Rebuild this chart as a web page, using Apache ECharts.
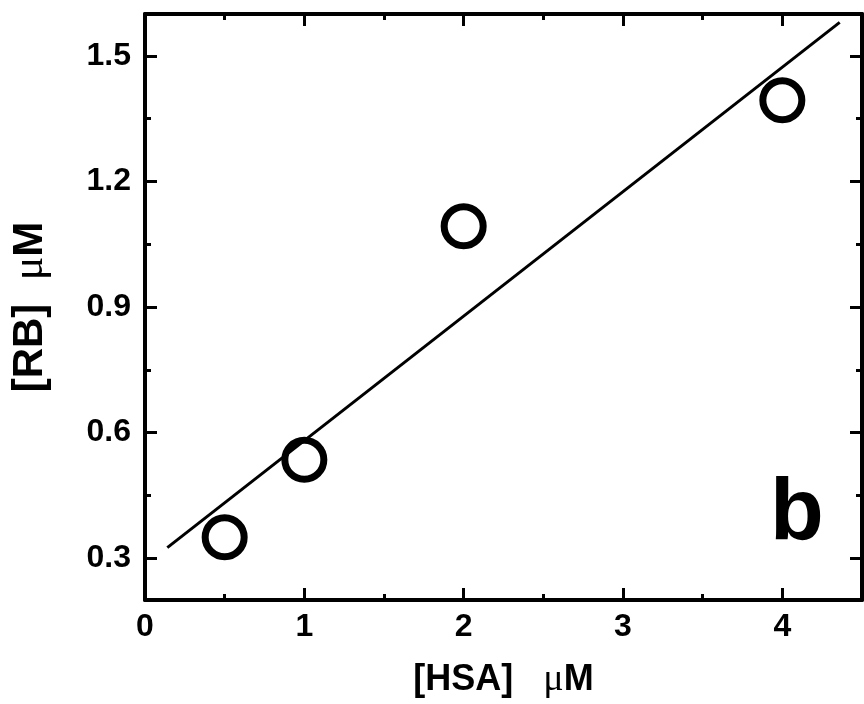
<!DOCTYPE html>
<html>
<head>
<meta charset="utf-8">
<script src="https://cdn.jsdelivr.net/npm/echarts@6/dist/echarts.min.js"></script>
<style>
  html, body { margin: 0; padding: 0; background: #fff; }
  #chart { width: 864px; height: 704px; }
</style>
</head>
<body>
<div id="chart"></div>
<script>
// measured points: [HSA] (uM) vs [RB] (uM)
const hsa = [0.5, 1, 2, 4]
const rb = [0.35, 0.535, 1.093, 1.394]
// linear fit as drawn (start / end of the line)
const fitX = [0.14, 4.36]
const fitY = [0.325, 1.58]

const xMajor = [0, 1, 2, 3, 4]
const xMinor = [0.5, 1.5, 2.5, 3.5]
const yMajor = [0.3, 0.6, 0.9, 1.2, 1.5]
const yMinor = [0.45, 0.75, 1.05, 1.35]
const yLabels = ['0.3', '0.6', '0.9', '1.2', '1.5']

const FONT = 'Liberation Sans, Arial, sans-serif'
const ink = '#000'

function frameAxis(opts) {
  const { position, min, max, ticks, len, line, labels, dim } = opts
  const axis = {
    type: 'value',
    position,
    min,
    max,
    splitLine: { show: false },
    axisLine: { show: !!line, onZero: false, lineStyle: { color: ink, width: 4 } },
    axisTick: {
      show: true,
      inside: true,
      length: len,
      customValues: ticks,
      lineStyle: { color: ink, width: 3 },
    },
    axisLabel: { show: false },
  }
  if (labels) {
    axis.axisLabel = {
      show: true,
      customValues: ticks,
      color: ink,
      fontFamily: FONT,
      fontWeight: 'bold',
      fontSize: 32,
      margin: dim === 'x' ? 11 : 14,
      formatter: v => dim === 'x' ? String(v) : yLabels[yMajor.indexOf(Math.round(v * 100) / 100)],
    }
  }
  return axis
}

function nameRich(size) {
  return {
    t: { fontFamily: FONT, fontWeight: 'bold', fontSize: size, color: ink },
    mu: { fontFamily: 'Liberation Serif, serif', fontSize: size + 2, color: ink },
  }
}

const xAxes = [
  Object.assign(frameAxis({ position: 'bottom', min: 0, max: 4.5, ticks: xMajor, len: 12, line: true, labels: true, dim: 'x' }), {
    name: '{t|[HSA]   }{mu|μ}{t|M}',
    nameLocation: 'middle',
    nameGap: 61,
    nameTextStyle: { rich: nameRich(36) },
  }),
  frameAxis({ position: 'bottom', min: 0, max: 4.5, ticks: xMinor, len: 6 }),
  frameAxis({ position: 'top', min: 0, max: 4.5, ticks: xMajor, len: 12, line: true }),
  frameAxis({ position: 'top', min: 0, max: 4.5, ticks: xMinor, len: 6 }),
]

const yAxes = [
  Object.assign(frameAxis({ position: 'left', min: 0.2, max: 1.6, ticks: yMajor, len: 12, line: true, labels: true, dim: 'y' }), {
    name: '{t|[RB]  }{mu|μ}{t|M}',
    nameLocation: 'middle',
    nameGap: 93,
    nameTextStyle: { rich: nameRich(42) },
  }),
  frameAxis({ position: 'left', min: 0.2, max: 1.6, ticks: yMinor, len: 6 }),
  frameAxis({ position: 'right', min: 0.2, max: 1.6, ticks: yMajor, len: 12, line: true }),
  frameAxis({ position: 'right', min: 0.2, max: 1.6, ticks: yMinor, len: 6 }),
]

const chart = echarts.init(document.getElementById('chart'), null, { renderer: 'canvas' })
chart.setOption({
  animation: false,
  backgroundColor: '#fff',
  grid: { left: 143, top: 14, width: 719, height: 586 },
  xAxis: xAxes,
  yAxis: yAxes,
  graphic: [
    {
      type: 'text',
      left: 770,
      top: 471,
      style: { text: 'b', fontFamily: FONT, fontWeight: 'bold', fontSize: 88, fill: ink },
    },
  ],
  series: [
    {
      name: 'fit',
      type: 'line',
      xAxisIndex: 0,
      yAxisIndex: 0,
      symbol: 'none',
      lineStyle: { color: ink, width: 3 },
      data: fitX.map((x, i) => [x, fitY[i]]),
      z: 2,
    },
    {
      name: 'RB',
      type: 'scatter',
      xAxisIndex: 0,
      yAxisIndex: 0,
      symbol: 'circle',
      symbolSize: 39,
      itemStyle: { color: 'rgba(255,255,255,0)', borderColor: ink, borderWidth: 7, opacity: 1 },
      data: hsa.map((x, i) => [x, rb[i]]),
      z: 3,
    },
  ],
})
</script>
</body>
</html>
